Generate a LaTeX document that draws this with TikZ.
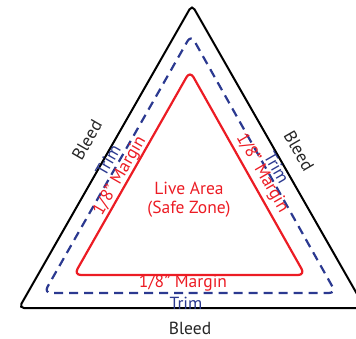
\documentclass[tikz,border=0pt]{standalone}
\usepackage{fontspec}
\setmainfont{PT Sans}
\definecolor{livered}{HTML}{EC1C24}
\definecolor{trimblue}{HTML}{2B3990}
\tikzset{
  bleedline/.style={draw=black, line width=2pt, rounded corners=5pt},
  trimline/.style={draw=trimblue, line width=2.2pt, dash pattern=on 9pt off 6pt, rounded corners=7pt},
  marginline/.style={draw=livered, line width=2.2pt, rounded corners=7pt},
  lbl/.style={inner sep=0pt, font=\fontsize{17.5}{19}\selectfont},
  bleedlbl/.style={lbl, text=black!85},
  trimlbl/.style={lbl, text=trimblue},
  marginlbl/.style={lbl, text=livered},
}
\begin{document}
\begin{tikzpicture}[x=1pt,y=-1pt]
\useasboundingbox (0,0) rectangle (356,339);
\clip (0,0) rectangle (356,339);
% outer (bleed)
\coordinate (bA) at (192,5);
\coordinate (bL) at (19,308);
\coordinate (bR) at (365,308);
\coordinate (bM) at (190,308);
\draw[bleedline] (bM) -- (bL) -- (bA) -- (bR) -- cycle;
% trim
\coordinate (tA) at (191,35);
\coordinate (tL) at (44,293);
\coordinate (tR) at (336,293);
\coordinate (tM) at (190,293);
\draw[trimline] (tM) -- (tL) -- (tA) -- (tR) -- cycle;
% margin
\coordinate (mA) at (190,71);
\coordinate (mL) at (74,275);
\coordinate (mR) at (305,275);
\coordinate (mM) at (190,275);
\draw[marginline] (mM) -- (mL) -- (mA) -- (mR) -- cycle;
% labels
\node[marginlbl, align=center] (live) at (189,200) {Live Area\\(Safe Zone)};
\node[bleedlbl, rotate=60] (bleedl) at (87,140) {Bleed};
\node[bleedlbl, rotate=-60] (bleedr) at (299,151) {Bleed};
\node[bleedlbl] (bleedb) at (190,328) {Bleed};
\node[trimlbl, rotate=60] (triml) at (108,160) {Trim};
\node[trimlbl, rotate=-60] (trimr) at (277,168) {Trim};
\node[trimlbl] (trimb) at (186,303) {Trim};
\node[marginlbl, rotate=60] (marginl) at (120,176) {1/8” Margin};
\node[marginlbl, rotate=-60] (marginr) at (262,173) {1/8” Margin};
\node[marginlbl] (marginb) at (183,283) {1/8” Margin};
\end{tikzpicture}
\end{document}
